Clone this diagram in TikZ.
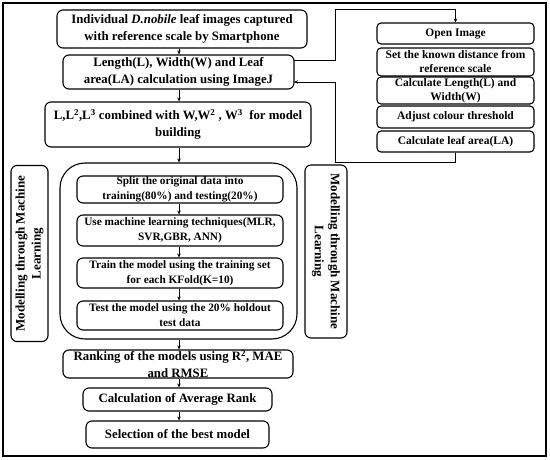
\documentclass[tikz,border=0pt]{standalone}
\usepackage{fontspec}
\setmainfont{Liberation Serif}
\usetikzlibrary{arrows.meta}
\begin{document}
\begin{tikzpicture}[x=1pt,y=-1pt,
  box/.style={draw, line width=1.1pt, rounded corners=6pt, align=center, inner sep=0.5pt,
    font=\bfseries\fontsize{12.8}{16.5}\selectfont},
  inbox/.style={box, font=\bfseries\fontsize{11.3}{15}\selectfont},
  rbox/.style={box, rounded corners=4pt, font=\bfseries\fontsize{11.5}{14}\selectfont},
  vbox/.style={box, font=\bfseries\fontsize{13}{16}\selectfont},
  arr/.style={line width=0.8pt, -{Stealth[length=4pt,width=3.5pt]}},
  link/.style={line width=1pt}]
\useasboundingbox (0,0) rectangle (550,460);
\draw[line width=1.5pt] (3,3) rectangle (546,456);
\coordinate (ax) at (179,0);
% main column
\node[box, minimum width=250pt, minimum height=38pt] (b1) at (182,29)
  {Individual \textit{D.nobile} leaf images captured\\with reference scale by Smartphone};
\node[box, minimum width=231pt, minimum height=34pt] (b2) at (178.5,72)
  {Length(L), Width(W) and Leaf\\area(LA) calculation using ImageJ};
\node[box, minimum width=266pt, minimum height=45pt] (b3) at (178,124.5)
  {L,L\textsuperscript{2},L\textsuperscript{3} combined with W,W\textsuperscript{2} , W\textsuperscript{3}\ \ for model\\building};
\node[draw, line width=1.1pt, rounded corners=25pt, minimum width=237pt, minimum height=176pt] (cont) at (178.5,251) {};
\node[inbox, minimum width=206pt, minimum height=27pt] (s1) at (180,189.5)
  {Split the original data into\\training(80\%) and testing(20\%)};
\node[inbox, minimum width=206pt, minimum height=31pt] (s2) at (180,230.5)
  {Use machine learning techniques(MLR,\\SVR,GBR, ANN)};
\node[inbox, minimum width=206pt, minimum height=30pt] (s3) at (180,273)
  {Train the model using the training set\\for each KFold(K=10)};
\node[inbox, minimum width=206pt, minimum height=29pt] (s4) at (180,315.5)
  {Test the model using the 20\% holdout\\test data};
\node[box, minimum width=230pt, minimum height=28pt] (r1) at (178,364)
  {Ranking of the models using R\textsuperscript{2}, MAE\\and RMSE};
\node[box, minimum width=189pt, minimum height=23pt] (r2) at (177.5,399.5)
  {Calculation of Average Rank};
\node[box, minimum width=183pt, minimum height=27pt] (r3) at (177.5,434.5)
  {Selection of the best model};
% side labels
\node[vbox, rotate=90, minimum width=176pt, minimum height=37pt] (lv) at (29.5,253.5)
  {Modelling through Machine\\Learning};
\node[vbox, rotate=-90, minimum width=173pt, minimum height=42pt] (rv) at (326,251.5)
  {Modelling through Machine\\Learning};
% ImageJ steps
\node[rbox, minimum width=157pt, minimum height=21pt] (i1) at (455.5,33.5) {Open Image};
\node[rbox, minimum width=157pt, minimum height=28pt] (i2) at (455.5,62)
  {Set the known distance from\\reference scale};
\node[rbox, minimum width=157pt, minimum height=27pt] (i3) at (455.5,90.5)
  {Calculate Length(L) and\\Width(W)};
\node[rbox, minimum width=157pt, minimum height=22pt] (i4) at (455.5,117) {Adjust colour threshold};
\node[rbox, minimum width=157pt, minimum height=21pt] (i5) at (455.5,141.5) {Calculate leaf area(LA)};
% vertical arrows
\draw[arr] (b1.south -| ax) -- (b2.north -| ax);
\draw[arr] (b2.south -| ax) -- (b3.north -| ax);
\draw[arr] (b3.south -| ax) -- (cont.north -| ax);
\draw[arr] (s1.south -| ax) -- (s2.north -| ax);
\draw[arr] (s2.south -| ax) -- (s3.north -| ax);
\draw[arr] (s3.south -| ax) -- (s4.north -| ax);
\draw[arr] (cont.south -| ax) -- (r1.north -| ax);
\draw[arr] (r1.south -| ax) -- (r2.north -| ax);
\draw[arr] (r2.south -| ax) -- (r3.north -| ax);
% ImageJ loop
\coordinate (o1) at (294,60);
\coordinate (o2) at (294,82);
\draw[link, arr] (o1) -| (335,9) -| (i1.north);
\draw[link, arr] (i5.south) |- (335,162) |- (o2);
\end{tikzpicture}
\end{document}
